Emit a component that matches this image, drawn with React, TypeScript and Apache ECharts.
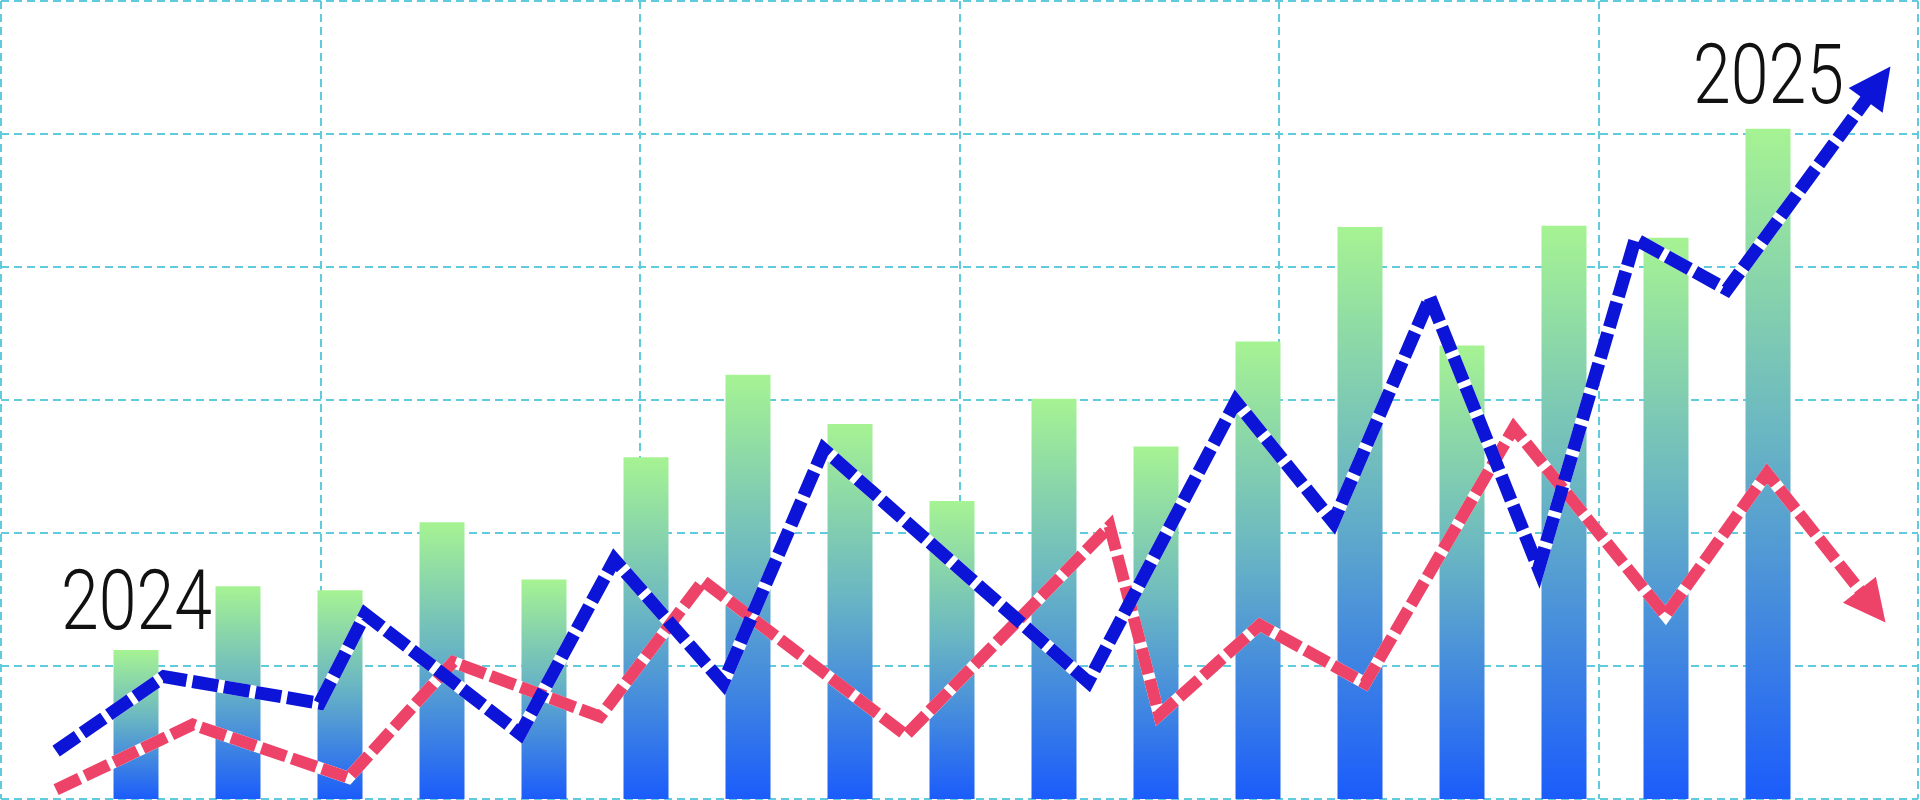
import React, { useEffect, useRef } from "react";
import * as echarts from "echarts";

// ---- data ----
const barCategories = [
  "P01", "P02", "P03", "P04", "P05", "P06", "P07", "P08", "P09",
  "P10", "P11", "P12", "P13", "P14", "P15", "P16", "P17",
];
const barValues = [112, 160, 157, 208, 165, 257, 319, 282, 224, 301, 265, 344, 430, 341, 431, 422, 504];

// line series: x in months (0..24), y in value units (0..600)
const blueX = [0.69, 2.04, 3.99, 4.56, 6.5, 7.68, 9.04, 10.3, 13.61, 15.46, 16.68, 17.89, 19.25, 20.46, 21.61, 23.5];
const blueY = [36, 92, 72, 139, 49, 180, 87, 263, 88, 299, 208, 377, 173, 421, 383, 538];
const redX = [0.69, 2.4, 4.35, 5.66, 7.5, 8.79, 11.33, 13.88, 14.5, 15.76, 17.08, 18.94, 20.84, 22.11, 23.43];
const redY = [7, 56, 16, 103, 62, 164, 48, 205, 63, 131, 87, 279, 138, 245, 145];

const startLabel = "2024";
const endLabel = "2025";

const BLUE = "#0c14d8";
const RED = "#ee4369";
const GRID_COLOR = "#5fcbdc";

function pairs(xs: number[], ys: number[]) {
  return xs.map((x, i) => [x, ys[i]]);
}

function arrowSegment(xs: number[], ys: number[]) {
  const n = xs.length;
  const ex = xs[n - 1], ey = ys[n - 1];
  const px = xs[n - 2], py = ys[n - 2];
  const t = 0.04;
  return [[ex - (ex - px) * t, ey - (ey - py) * t], [ex, ey]];
}

export default function App() {
  const ref = useRef<HTMLDivElement>(null);
  useEffect(() => {
    document.body.style.margin = "0";
    const chart = echarts.init(ref.current!, null, { renderer: "svg" });
    const blue = pairs(blueX, blueY);
    const red = pairs(redX, redY);
    const dashStyle = (color: string, width: number) => ({
      color,
      width,
      type: [26, 6],
      cap: "butt",
      join: "miter",
      miterLimit: 10,
    });
    const underStyle = (width: number) => ({
      color: "#ffffff",
      width,
      type: "solid",
      cap: "butt",
      join: "miter",
      miterLimit: 10,
    });
    const textFont = "Roboto, 'DejaVu Sans Condensed', sans-serif";
    const textStyle = (text: string) => ({
      text,
      fontSize: 83,
      fontWeight: 300,
      fontFamily: textFont,
      fill: "#111111",
      align: "left",
      verticalAlign: "middle",
    });

    chart.setOption({
      animation: false,
      backgroundColor: "#ffffff",
      grid: [
        { left: 1, right: 2, top: 1, bottom: 1 },
        { left: 85, right: 101, top: 1, bottom: 1 },
      ],
      xAxis: [
        {
          type: "value",
          gridIndex: 0,
          min: 0,
          max: 24,
          interval: 4,
          axisLine: { show: false },
          axisTick: { show: false },
          axisLabel: { show: false },
          splitLine: { show: true, lineStyle: { color: GRID_COLOR, width: 2, type: [8, 5] } },
        },
        {
          type: "category",
          gridIndex: 1,
          data: barCategories,
          axisLine: { show: false },
          axisTick: { show: false },
          axisLabel: { show: false },
          splitLine: { show: false },
        },
      ],
      yAxis: [
        {
          type: "value",
          gridIndex: 0,
          min: 0,
          max: 600,
          interval: 100,
          axisLine: { show: false },
          axisTick: { show: false },
          axisLabel: { show: false },
          splitLine: { show: true, lineStyle: { color: GRID_COLOR, width: 2, type: [8, 5] } },
        },
        {
          type: "value",
          gridIndex: 1,
          min: 0,
          max: 600,
          axisLine: { show: false },
          axisTick: { show: false },
          axisLabel: { show: false },
          splitLine: { show: false },
        },
      ],
      series: [
        {
          type: "bar",
          xAxisIndex: 1,
          yAxisIndex: 1,
          data: barValues,
          barWidth: 45,
          z: 1,
          silent: true,
          itemStyle: {
            color: new echarts.graphic.LinearGradient(0, 0, 0, 1, [
              { offset: 0, color: "#a6f393" },
              { offset: 0.45, color: "#6bb7c2" },
              { offset: 1, color: "#1b5cfb" },
            ]),
          },
        },
        {
          type: "line",
          data: red,
          xAxisIndex: 0,
          yAxisIndex: 0,
          symbol: "none",
          silent: true,
          z: 2,
          lineStyle: underStyle(12),
        },
        {
          type: "line",
          data: blue,
          xAxisIndex: 0,
          yAxisIndex: 0,
          symbol: "none",
          silent: true,
          z: 2,
          lineStyle: underStyle(13),
        },
        {
          type: "line",
          data: red,
          xAxisIndex: 0,
          yAxisIndex: 0,
          symbol: "none",
          silent: true,
          z: 3,
          lineStyle: dashStyle(RED, 12),
        },
        {
          type: "lines",
          coordinateSystem: "cartesian2d",
          xAxisIndex: 0,
          yAxisIndex: 0,
          silent: true,
          z: 3,
          symbol: ["none", "triangle"],
          symbolSize: [46, 42],
          lineStyle: { color: RED, width: 12, opacity: 1, curveness: 0 },
          data: [{ coords: arrowSegment(redX, redY) }],
        },
        {
          type: "line",
          data: blue,
          xAxisIndex: 0,
          yAxisIndex: 0,
          symbol: "none",
          silent: true,
          z: 4,
          lineStyle: dashStyle(BLUE, 13),
        },
        {
          type: "lines",
          coordinateSystem: "cartesian2d",
          xAxisIndex: 0,
          yAxisIndex: 0,
          silent: true,
          z: 4,
          symbol: ["none", "triangle"],
          symbolSize: [46, 42],
          lineStyle: { color: BLUE, width: 13, opacity: 1, curveness: 0 },
          data: [{ coords: arrowSegment(blueX, blueY) }],
        },
      ],
      graphic: [
        {
          type: "text",
          x: 61,
          y: 601,
          scaleX: 0.82,
          z: 10,
          silent: true,
          style: textStyle(startLabel),
        },
        {
          type: "text",
          x: 1693,
          y: 75,
          scaleX: 0.82,
          z: 10,
          silent: true,
          style: textStyle(endLabel),
        },
      ],
    });
    return () => chart.dispose();
  }, []);
  return (
    <div
      ref={ref}
      style={{ position: "absolute", left: 0, top: 0, width: 1920, height: 800 }}
    />
  );
}
